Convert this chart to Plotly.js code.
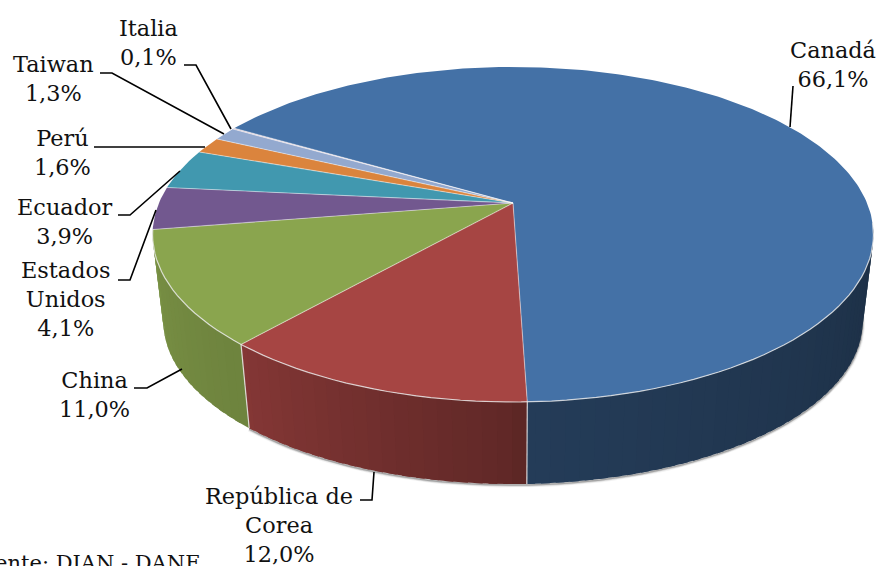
<!DOCTYPE html>
<html><head><meta charset="utf-8">
<script src="https://cdn.plot.ly/plotly-3.0.1.min.js"></script>
<style>html,body{margin:0;padding:0;background:#fff;overflow:hidden}#c{width:881px;height:566px}</style>
</head><body><div id="c"></div>
<script>
// Data
const countries = ['Canadá','República de<br>Corea','China','Estados<br>Unidos','Ecuador','Perú','Taiwan','Italia'];
const shares = [66.1,12.0,11.0,4.1,3.9,1.6,1.3,0.1];
const sliceColors = ['#4471A6','#A64543','#8AA54E','#72588F','#4198AF','#DB843D','#93A9CF','#C9B8C8'];
const sourceNote = 'Fuente: DIAN - DANE';

// Label placement (pixel-space axes)
const labelX = [833,279,94,66,64,62,53,148];
const labelY = [64,525,394,299,221,152,78,42];
const leaderX = [[793,790],[360,372,374],[134,147,182],[118,130,156],[118,130,180],[94,205],[100,112,224],[184,196,231]];
const leaderY = [[86,127],[500,500,472],[388,388,369],[280,280,210],[215,215,171],[147,147],[73,73,134],[65,65,129]];

// Pie projection: a tilted disc seen in perspective
const cx=513, cy=203, A=354, B=161.6, K=0.188, startDeg=300.4;
const depthScale=0.97, bottomCy=291;
function topPt(t){const r=t*Math.PI/180,u=Math.sin(r),v=Math.cos(r),w=1+K*v;return [cx+A*u/w,cy-B*v/w];}
function botPt(t){const r=t*Math.PI/180,u=Math.sin(r),v=Math.cos(r),w=1+K*v;return [cx+depthScale*A*u/w,bottomCy-depthScale*B*v/w];}
const total=shares.reduce((a,b)=>a+b,0);
const edges=[startDeg];
shares.forEach(s=>edges.push(edges[edges.length-1]+s/total*360));

const lightStops=[[100,.42],[178,.53],[180,.58],[222,.80],[224,.80],[262,.88]];
function light(t){
  const d=((t%360)+360)%360;
  if(d<=lightStops[0][0])return lightStops[0][1];
  for(let i=1;i<lightStops.length;i++){
    if(d<=lightStops[i][0]){const a=lightStops[i-1],b=lightStops[i];return a[1]+(b[1]-a[1])*(d-a[0])/(b[0]-a[0]);}
  }
  return lightStops[lightStops.length-1][1];
}
function shade(hex,f){const n=parseInt(hex.slice(1),16);return `rgb(${Math.round((n>>16)*f)},${Math.round(((n>>8)&255)*f)},${Math.round((n&255)*f)})`;}
function arc(fn,a,b,step){const n=Math.max(1,Math.ceil(Math.abs(b-a)/step));const p=[];for(let i=0;i<=n;i++)p.push(fn(a+(b-a)*i/n));return p;}
function poly(pts,color){return {type:'scatter',mode:'lines',x:pts.map(p=>p[0]),y:pts.map(p=>p[1]),fill:'toself',fillcolor:color,line:{width:0,color:color},hoverinfo:'skip',showlegend:false};}
function stroke(pts,color,w){return {type:'scatter',mode:'lines',x:pts.map(p=>p[0]),y:pts.map(p=>p[1]),line:{width:w,color:color},hoverinfo:'skip',showlegend:false};}

const traces=[];
const wallEnds=edges.map(e=>((e%360)+360)%360);
const wallFrom=97, wallTo=wallEnds[2];
// soft shadow below the wall
[[5,'rgba(0,0,0,0.05)'],[3,'rgba(0,0,0,0.12)'],[1.5,'rgba(0,0,0,0.22)']].forEach(s=>{
  traces.push(stroke(arc(t=>{const p=botPt(t);return [p[0],p[1]+1];},wallFrom,wallTo,2),s[1],s[0]));
});
// side wall: one run of overlapping shaded strips per visible slice
function wallRun(from,to,color){
  const stripStep=2;
  for(let t=from;t<to-1e-6;t+=stripStep){
    const b=Math.min(t+stripStep,to), m=(t+b)/2, end=Math.min(b+1.2,to);
    const pts=arc(topPt,t,end,1).concat(arc(botPt,end,t,1));
    pts.push(pts[0]);
    traces.push(poly(pts,shade(color,light(m))));
  }
}
wallRun(wallFrom,wallEnds[0+1],sliceColors[0]);
wallRun(wallEnds[1],wallEnds[2],sliceColors[1]);
wallRun(wallEnds[2],wallEnds[3],sliceColors[2]);
// wall separators
[wallEnds[1],wallEnds[2]].forEach(e=>traces.push(stroke([topPt(e),botPt(e)],'rgba(235,235,235,0.85)',1.2)));
// top face
shares.forEach((s,i)=>{
  const pts=[[cx,cy]].concat(arc(topPt,edges[i],edges[i+1],1));pts.push([cx,cy]);
  traces.push(poly(pts,sliceColors[i]));
});
// front rim highlight and radial separators
traces.push(stroke(arc(topPt,wallFrom,wallEnds[3],2),'rgba(235,235,235,0.8)',1.2));
edges.slice(0,-1).forEach(e=>traces.push(stroke([[cx,cy],topPt(e)],'rgba(255,255,255,0.45)',1.1)));

const shapes=leaderX.map((xs,i)=>({type:'path',xref:'x',yref:'y',layer:'above',
  path:xs.map((x,j)=>(j?'L':'M')+x+','+leaderY[i][j]).join(' '),
  line:{color:'#000',width:1.6}}));

const labelFont={family:'"DejaVu Serif",serif',size:22.4,color:'#111'};
const annotations=countries.map((n,i)=>({xref:'x',yref:'y',x:labelX[i],y:labelY[i],xanchor:'center',yanchor:'middle',
  align:'center',showarrow:false,font:labelFont,text:n+'<br>'+shares[i].toFixed(1).replace('.',',')+'%'}));
annotations.push({xref:'x',yref:'y',x:203,y:563,xanchor:'right',yanchor:'middle',showarrow:false,
  font:{family:'"DejaVu Serif",serif',size:21,color:'#111'},text:sourceNote});

Plotly.newPlot('c',traces,{
  width:881,height:566,margin:{l:0,r:0,t:0,b:0},paper_bgcolor:'#fff',plot_bgcolor:'#fff',showlegend:false,
  xaxis:{range:[0,881],visible:false,fixedrange:true},
  yaxis:{range:[566,0],visible:false,fixedrange:true},
  shapes:shapes,annotations:annotations
},{displayModeBar:false,staticPlot:true});
</script></body></html>
